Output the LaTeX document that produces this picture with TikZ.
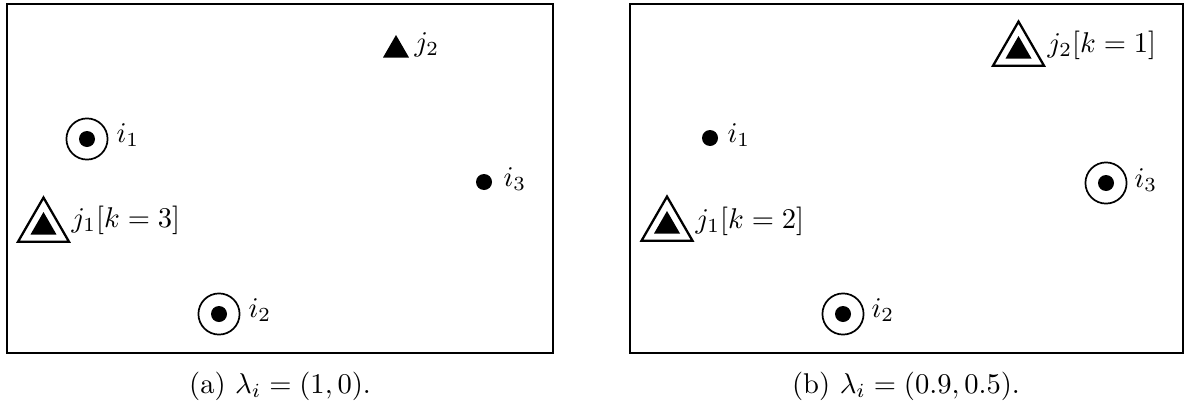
\documentclass[tikz,border=0pt]{standalone}
\usepackage{amsmath}
\usetikzlibrary{shapes.geometric}

\tikzset{
  client/.style={circle,fill,inner sep=0pt,minimum size=5.6pt},
  clientring/.style={circle,draw,semithick,inner sep=0pt,minimum size=14.4pt},
  facility/.style={regular polygon,regular polygon sides=3,fill,inner sep=0pt,minimum size=10.5pt},
  facilityring/.style={regular polygon,regular polygon sides=3,draw,thick,inner sep=0pt,minimum size=20.6pt},
  lab/.style={anchor=west,inner sep=0pt},
}

\begin{document}
\begin{tikzpicture}[x=0.35pt,y=-0.35pt]
        \useasboundingbox (0,0) rectangle (1188,407);
        % (a)
        \draw (7,4) rectangle (553,353);
        \draw
            (396,50) node[facility] (aj2){}
            (87,139) node[clientring] (ai1r){} node[client] (ai1){}
            (484,182) node[client] (ai3){}
            (43.5,227) node[facilityring] (aj1r){} node[facility] (aj1){}
            (219,314) node[clientring] (ai2r){} node[client] (ai2){};
        \draw
            (414,45) node[lab] (aj2lab){$j_2$}
            (116,135) node[lab] (ai1lab){$i_1$}
            (503,179) node[lab] (ai3lab){$i_3$}
            (71,220) node[lab] (aj1lab){$j_1[k=3]$}
            (248,310) node[lab] (ai2lab){$i_2$};
        \node (capa) at (280,386) {(a) $\lambda_i=(1,0)$.};
        % (b)
        \draw (630,4) rectangle (1183,353);
        \draw
            (1018.5,51) node[facilityring] (bj2r){} node[facility] (bj2){}
            (710,138) node[client] (bi1){}
            (1106,183) node[clientring] (bi3r){} node[client] (bi3){}
            (667,226) node[facilityring] (bj1r){} node[facility] (bj1){}
            (843,314) node[clientring] (bi2r){} node[client] (bi2){};
        \draw
            (1047,45) node[lab] (bj2lab){$j_2[k=1]$}
            (727,135) node[lab] (bi1lab){$i_1$}
            (1134,180) node[lab] (bi3lab){$i_3$}
            (695,221) node[lab] (bj1lab){$j_1[k=2]$}
            (871,310) node[lab] (bi2lab){$i_2$};
        \node (capb) at (906,386) {(b) $\lambda_i=(0.9,0.5)$.};
\end{tikzpicture}
\end{document}
